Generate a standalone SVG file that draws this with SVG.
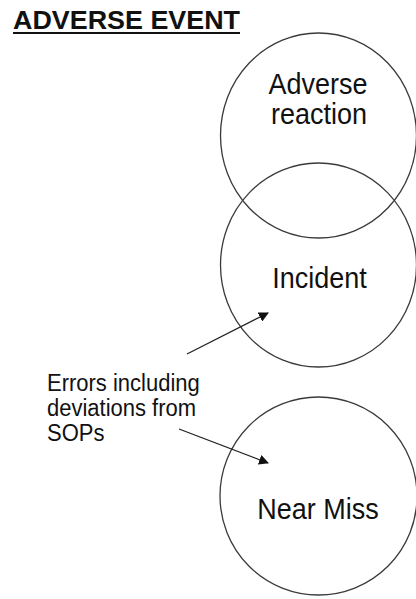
<svg xmlns="http://www.w3.org/2000/svg" width="416" height="599" viewBox="0 0 416 599">
  <style>
    .ring { fill: none; stroke: #3a3a3a; stroke-width: 1.3; }
    .label { font-family: "Liberation Sans", Arial, sans-serif; font-size: 27px; fill: #111; text-anchor: middle; }
    .note { font-family: "Liberation Sans", Arial, sans-serif; font-size: 22px; fill: #111; }
    .title { font-family: "Liberation Sans", Arial, sans-serif; font-size: 26px; font-weight: bold; fill: #111; }
    .link { stroke: #222; stroke-width: 1.3; fill: none; marker-end: url(#head); }
  </style>
  <defs>
    <marker id="head" viewBox="0 0 10 10" refX="9" refY="5" markerWidth="10" markerHeight="10" markerUnits="userSpaceOnUse" orient="auto">
      <path d="M0,0 L10,5 L0,10 z" fill="#111"/>
    </marker>
  </defs>
  <rect width="416" height="599" fill="#fff"/>

  <g id="title">
    <text class="title" x="13" y="29" textLength="227" lengthAdjust="spacingAndGlyphs">ADVERSE EVENT</text>
    <rect x="13" y="32" width="227" height="2" fill="#111"/>
  </g>

  <!-- labels are drawn slightly taller than wide -->
  <g id="adverse-reaction">
    <ellipse class="ring" cx="318.5" cy="135.5" rx="98" ry="102.5"/>
    <text class="label" transform="translate(318,94) scale(1,1.06)">Adverse</text>
    <text class="label" transform="translate(319,124) scale(1,1.06)">reaction</text>
  </g>

  <g id="incident">
    <ellipse class="ring" cx="318.5" cy="265" rx="98" ry="102"/>
    <text class="label" transform="translate(319.5,288) scale(1,1.08)">Incident</text>
  </g>

  <g id="near-miss">
    <ellipse class="ring" cx="318.5" cy="496" rx="98.5" ry="99"/>
    <text class="label" transform="translate(318,519) scale(1,1.08)">Near Miss</text>
  </g>

  <g id="errors">
    <text class="note" transform="translate(47,391) scale(1,1.1)">Errors including</text>
    <text class="note" transform="translate(47,416) scale(1,1.1)">deviations from</text>
    <text class="note" transform="translate(47,441) scale(1,1.1)">SOPs</text>
  </g>

  <g id="connectors">
    <line class="link" x1="187" y1="354" x2="268" y2="313"/>
    <line class="link" x1="179" y1="429" x2="268" y2="463"/>
  </g>
</svg>
